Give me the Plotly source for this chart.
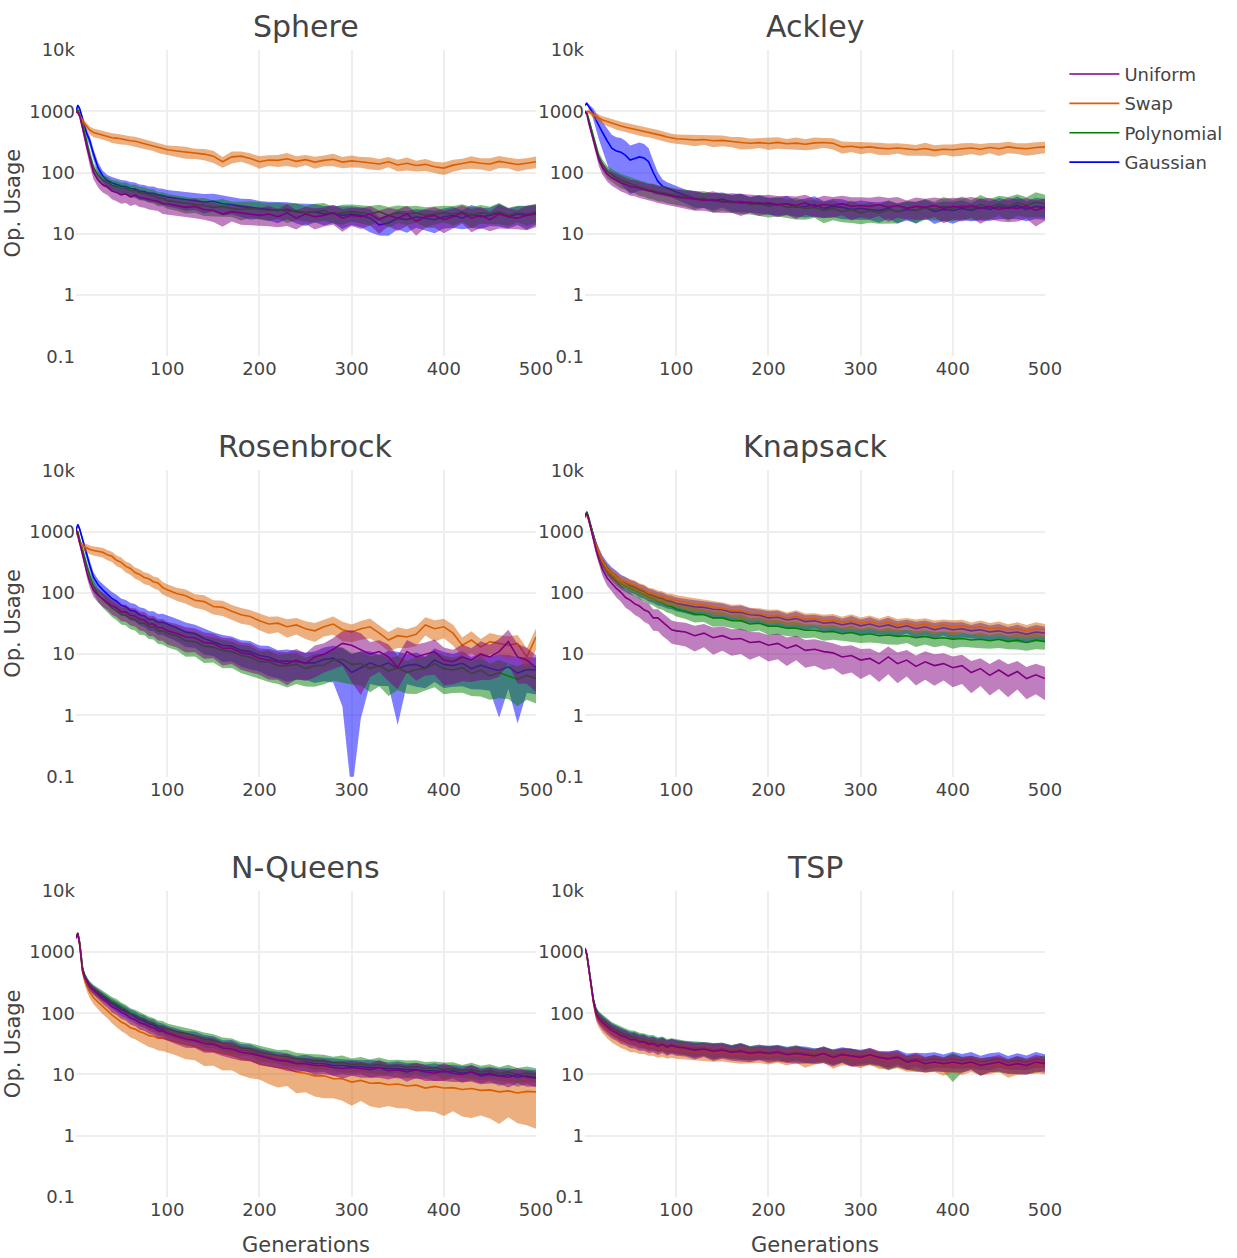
import plotly.graph_objects as go
from plotly.subplots import make_subplots

GENS = [1, 3, 5, 8, 10, 13, 16, 20, 25, 30, 35, 40, 45, 50, 55, 60, 65, 70, 75, 80, 85, 90, 95, 100] + list(range(110, 501, 10))

PANELS = ["Sphere", "Ackley", "Rosenbrock", "Knapsack", "N-Queens", "TSP"]
OPERATORS = ["Uniform", "Swap", "Polynomial", "Gaussian"]
X_TICKS = [100, 200, 300, 400, 500]

# ---------------- Sphere ----------------
sphere_uniform = [1000, 950, 830, 560, 400, 250, 160, 100, 75, 63, 58, 50, 47, 43, 45, 40, 43, 39, 38, 36, 35, 34, 31, 31,
    29, 27, 28, 25, 24, 21, 23, 22, 21, 20,
    21, 19, 22, 18, 21, 19, 20, 22, 18, 20,
    19, 21, 17, 20, 18, 21, 16, 19, 20, 17,
    19, 22, 18, 20, 17, 21, 19, 18, 20, 21]
sphere_uniform_sd = [5, 5, 8, 12, 15, 18, 20, 22, 24, 25, 26, 27, 28, 28, 29, 29, 30, 30, 30, 31, 31, 31, 32, 32,
    33, 30, 36, 32, 35, 38, 31, 36, 34, 32,
    37, 33, 39, 35, 31, 38, 34, 36, 40, 33,
    37, 35, 41, 33, 38, 36, 42, 34, 37, 40,
    36, 33, 41, 38, 35, 42, 37, 34, 43, 39]
sphere_swap = [1000, 950, 850, 700, 640, 560, 490, 450, 430, 410, 395, 370, 365, 350, 345, 330, 325, 310, 300, 285, 275, 255, 250, 235,
    225, 215, 205, 200, 185, 150, 180, 185, 170, 150,
    160, 158, 168, 152, 162, 148, 158, 165, 148, 155,
    150, 145, 138, 150, 133, 142, 130, 136, 124, 118,
    132, 140, 150, 142, 138, 152, 145, 135, 142, 150]
sphere_swap_sd = [5, 5, 8, 10, 12, 14, 15, 16, 16, 17, 17, 18, 18, 18, 18, 18, 18, 18, 18, 18, 18, 18, 18, 18,
    20, 22, 19, 21, 23, 20, 22, 19, 21, 23,
    20, 22, 24, 21, 19, 22, 20, 23, 21, 22,
    20, 23, 21, 19, 22, 24, 20, 22, 21, 23,
    22, 20, 23, 21, 24, 22, 20, 23, 21, 22]
sphere_polynomial = [1000, 1050, 900, 650, 470, 300, 190, 120, 90, 75, 70, 62, 60, 56, 56, 51, 51, 47, 46, 43, 42, 38, 38, 35,
    33, 31, 30, 29, 27, 28, 26, 25, 26, 25,
    24, 25, 23, 24, 22, 23, 24, 21, 22, 23,
    22, 21, 23, 20, 22, 21, 22, 20, 21, 22,
    21, 23, 20, 22, 21, 23, 20, 22, 21, 23]
sphere_polynomial_sd = [5, 5, 7, 10, 12, 15, 17, 18, 19, 20, 21, 22, 22, 23, 23, 24, 24, 25, 25, 25, 26, 26, 26, 27,
    28, 31, 27, 33, 29, 32, 28, 34, 30, 31,
    33, 29, 35, 31, 28, 34, 32, 30, 36, 31,
    33, 35, 30, 37, 32, 34, 31, 36, 33, 30,
    35, 32, 37, 34, 31, 38, 33, 30, 36, 34]
sphere_gaussian = [1000, 1250, 1100, 800, 600, 420, 330, 200, 120, 88, 74, 68, 64, 60, 59, 55, 54, 50, 49, 46, 46, 43, 42, 40,
    38, 36, 35, 33, 34, 31, 30, 28, 27, 26,
    25, 24, 25, 23, 22, 23, 21, 22, 20, 21,
    20, 18, 14, 15, 18, 17, 19, 18, 17, 19,
    20, 18, 21, 19, 20, 22, 19, 21, 20, 22]
sphere_gaussian_sd = [5, 5, 8, 10, 13, 16, 18, 20, 21, 22, 23, 24, 25, 26, 26, 27, 27, 28, 28, 28, 29, 29, 29, 30,
    31, 34, 30, 35, 32, 36, 31, 33, 37, 32,
    34, 38, 31, 36, 39, 33, 35, 32, 40, 34,
    36, 41, 33, 38, 35, 39, 34, 37, 40, 36,
    38, 34, 41, 37, 33, 40, 36, 34, 42, 37]

# ---------------- Ackley ----------------
ackley_uniform = [1000, 900, 650, 430, 340, 230, 160, 120, 95, 82, 75, 68, 64, 59, 58, 55, 53, 50, 49, 46, 45, 43, 42, 40,
    38, 37, 35, 36, 33, 34, 32, 33, 31, 32,
    30, 31, 29, 32, 28, 30, 29, 31, 28, 29,
    28, 30, 27, 29, 26, 28, 27, 29, 26, 28,
    27, 29, 26, 28, 25, 27, 26, 28, 24, 27]
ackley_uniform_sd = [5, 5, 8, 12, 15, 18, 21, 23, 25, 26, 27, 28, 28, 29, 29, 30, 30, 30, 31, 31, 31, 31, 32, 32,
    33, 36, 32, 38, 34, 35, 39, 33, 37, 35,
    38, 34, 40, 36, 33, 39, 37, 35, 41, 36,
    38, 35, 42, 37, 34, 40, 38, 35, 43, 39,
    41, 37, 44, 38, 36, 43, 39, 37, 45, 40]
ackley_swap = [920, 980, 1000, 920, 870, 820, 780, 720, 680, 640, 600, 575, 550, 530, 510, 490, 470, 460, 440, 420, 400, 380, 365, 355,
    350, 340, 345, 330, 335, 318, 310, 300, 308, 298,
    310, 295, 302, 290, 305, 310, 300, 262, 268, 255,
    262, 250, 245, 252, 240, 235, 247, 230, 240, 235,
    245, 252, 240, 256, 245, 262, 250, 244, 256, 262]
ackley_swap_sd = [5, 6, 8, 10, 12, 13, 14, 15, 16, 16, 17, 17, 18, 18, 18, 18, 18, 18, 18, 18, 18, 18, 18, 18,
    19, 21, 18, 22, 20, 19, 23, 20, 18, 22,
    21, 19, 23, 20, 22, 18, 21, 23, 19, 22,
    20, 23, 21, 19, 22, 20, 24, 21, 19, 22,
    23, 20, 22, 19, 24, 21, 20, 23, 22, 21]
ackley_polynomial = [1000, 950, 750, 500, 390, 260, 180, 135, 105, 92, 83, 75, 71, 66, 63, 58, 56, 52, 51, 48, 47, 45, 44, 42,
    40, 37, 38, 34, 35, 32, 33, 30, 31, 28,
    30, 27, 28, 26, 27, 24, 26, 23, 25, 22,
    24, 22, 25, 23, 26, 24, 27, 25, 28, 26,
    29, 26, 30, 27, 31, 28, 32, 29, 33, 31]
ackley_polynomial_sd = [5, 5, 7, 10, 13, 16, 19, 21, 23, 24, 25, 26, 26, 27, 27, 28, 28, 28, 29, 29, 29, 30, 30, 30,
    31, 34, 30, 35, 33, 32, 37, 31, 36, 34,
    36, 33, 39, 35, 32, 38, 36, 33, 40, 35,
    37, 34, 41, 36, 33, 39, 37, 34, 42, 38,
    40, 36, 43, 37, 35, 42, 38, 36, 44, 40]
ackley_gaussian = [1260, 1340, 1200, 1050, 925, 720, 580, 450, 330, 250, 225, 215, 190, 160, 170, 180, 172, 150, 100, 72, 60, 55, 52, 48,
    42, 38, 36, 35, 37, 33, 34, 31, 32, 30,
    29, 31, 27, 28, 30, 26, 28, 27, 25, 26,
    25, 24, 26, 23, 25, 24, 27, 23, 25, 24,
    26, 24, 27, 25, 28, 26, 29, 25, 28, 27]
ackley_gaussian_sd = [5, 5, 8, 12, 20, 30, 40, 50, 58, 65, 68, 70, 72, 72, 72, 72, 70, 66, 55, 40, 30, 26, 25, 25,
    26, 30, 27, 32, 28, 31, 34, 29, 33, 31,
    32, 35, 30, 34, 37, 31, 33, 36, 32, 35,
    33, 37, 32, 36, 34, 38, 33, 37, 35, 39,
    36, 33, 39, 35, 38, 34, 40, 36, 38, 37]

# ---------------- Rosenbrock ----------------
rosenbrock_uniform = [1050, 900, 650, 420, 330, 210, 150, 110, 92, 80, 72, 61, 57, 49, 49, 43, 42, 37, 36, 31, 31, 27, 27, 24,
    22, 19, 18.5, 15.5, 15, 12.5, 12.5, 10.5, 10, 8.5,
    8, 7.5, 6.9, 8, 7, 9, 10, 12, 15, 14,
    12, 10, 11, 9, 6.1, 11, 9, 10, 11, 8,
    7.5, 9, 8, 10, 9, 11, 16, 9, 8, 6]
rosenbrock_uniform_sd = [5, 6, 8, 12, 15, 18, 20, 22, 24, 26, 27, 28, 29, 30, 31, 32, 33, 34, 35, 36, 37, 38, 39, 40,
    41, 44, 42, 46, 43, 48, 45, 47, 50, 46,
    52, 49, 55, 51, 48, 54, 50, 53, 57, 75,
    82, 58, 53, 60, 56, 54, 59, 55, 58, 61,
    57, 60, 56, 62, 58, 61, 57, 63, 59, 60]
rosenbrock_swap = [1000, 850, 650, 580, 560, 540, 510, 490, 475, 460, 420, 395, 340, 315, 270, 250, 215, 200, 178, 170, 152, 145, 122, 112,
    98, 90, 76, 72, 60, 58, 50, 44, 41, 35,
    31, 32, 28, 30, 26, 24, 28, 31, 25, 23,
    26, 28, 22, 17, 20, 19, 21, 30, 26, 28,
    22, 14, 17, 13, 16, 15, 14, 15, 9, 19]
rosenbrock_swap_sd = [5, 6, 8, 12, 14, 15, 16, 17, 18, 18, 19, 19, 20, 20, 20, 21, 21, 21, 22, 22, 22, 23, 23, 23,
    24, 26, 25, 27, 26, 28, 27, 29, 28, 30,
    31, 29, 33, 30, 32, 34, 31, 33, 35, 32,
    34, 36, 33, 35, 37, 34, 36, 33, 38, 35,
    37, 34, 39, 36, 38, 35, 40, 37, 39, 38]
rosenbrock_polynomial = [1050, 1000, 750, 500, 400, 270, 190, 130, 95, 78, 67, 57, 51, 44, 43, 38, 37, 32, 32, 28, 28, 24, 24, 22,
    20, 16.5, 16, 13.5, 13, 11.5, 11, 9.5, 9, 7.5,
    7.5, 6.5, 6.5, 6.8, 5.8, 6.5, 6.6, 8, 8.2, 6.8,
    7, 5.8, 6.5, 5.3, 6, 5, 5.6, 5.8, 7, 5.8,
    5.5, 6, 4.8, 5.5, 4.4, 5, 4.4, 3.9, 4.5, 4]
rosenbrock_polynomial_sd = [5, 5, 7, 10, 14, 17, 20, 23, 25, 27, 28, 29, 30, 31, 32, 33, 34, 35, 36, 37, 38, 39, 40, 41,
    42, 45, 43, 47, 44, 49, 46, 48, 51, 47,
    53, 50, 56, 52, 49, 55, 51, 54, 58, 53,
    56, 59, 54, 61, 57, 55, 60, 56, 59, 62,
    58, 61, 57, 63, 59, 62, 58, 64, 60, 61]
rosenbrock_gaussian = [1050, 1300, 1100, 750, 560, 400, 280, 180, 135, 112, 96, 81, 73, 63, 59, 52, 50, 44, 42, 37, 37, 33, 33, 31,
    27, 23, 21.5, 18, 16, 14, 13.5, 11.5, 11, 9.5,
    9, 7.8, 7.7, 7.6, 7.2, 7.2, 8.2, 8.6, 7, 5,
    6, 7.2, 6.3, 7.2, 5.8, 6.6, 6.8, 5.9, 8, 6.8,
    6.5, 7.1, 5.8, 6.6, 5.9, 5.4, 6.2, 4.9, 5.6, 5.5]
rosenbrock_gaussian_sd = [5, 5, 8, 10, 13, 16, 19, 21, 23, 25, 26, 27, 28, 29, 30, 31, 32, 33, 34, 35, 36, 37, 38, 39,
    40, 43, 41, 45, 42, 47, 44, 46, 49, 45,
    51, 48, 54, 50, 47, 53, 56, 60, 80, 99,
    85, 55, 52, 58, 88, 51, 57, 53, 56, 59,
    55, 58, 54, 60, 57, 83, 56, 85, 58, 60]

# ---------------- Knapsack ----------------
knapsack_uniform = [1800, 2000, 1600, 1000, 750, 500, 350, 240, 175, 145, 118, 102, 84, 76, 66, 61, 53, 49, 39, 39, 33, 29, 25, 24,
    23, 20, 22, 18.5, 20, 17.5, 18, 15.5, 16, 14,
    15, 12.5, 14, 11.5, 12, 11, 10.5, 9, 9.5, 8,
    8.5, 7, 9, 7, 8, 6.3, 7.5, 6.5, 7, 6,
    6.5, 5, 5.8, 4.5, 5.5, 4.4, 5.2, 4, 4.6, 4]
knapsack_uniform_sd = [5, 5, 7, 10, 13, 16, 19, 22, 25, 27, 29, 30, 32, 33, 34, 35, 36, 37, 38, 39, 40, 40, 41, 41,
    42, 45, 41, 47, 43, 46, 44, 48, 42, 46,
    45, 49, 43, 48, 46, 50, 44, 49, 47, 51,
    45, 50, 48, 52, 46, 51, 49, 53, 47, 52,
    50, 54, 48, 53, 51, 55, 49, 54, 52, 56]
knapsack_swap = [1700, 1900, 1500, 1000, 800, 600, 450, 330, 250, 210, 182, 160, 152, 140, 132, 120, 112, 100, 97, 90, 87, 80, 79, 75,
    70, 65, 63, 59, 56, 52, 51, 46, 46, 42,
    43, 39, 41, 37, 38, 35, 36, 33, 35, 32,
    34, 31, 33, 30, 32, 29, 31, 28, 30, 28,
    29, 27, 28, 26, 27, 25, 26, 24, 26, 25]
knapsack_swap_sd = [5, 5, 7, 10, 12, 14, 15, 16, 17, 18, 18, 19, 19, 20, 20, 20, 21, 21, 21, 21, 22, 22, 22, 22,
    23, 25, 22, 26, 24, 23, 27, 24, 22, 26,
    25, 23, 27, 24, 22, 26, 25, 23, 28, 24,
    26, 23, 28, 25, 22, 27, 24, 26, 23, 28,
    25, 22, 27, 24, 26, 23, 28, 25, 27, 24]
knapsack_polynomial = [1800, 2100, 1700, 1100, 850, 600, 430, 300, 230, 190, 162, 140, 130, 118, 110, 100, 94, 85, 80, 72, 69, 62, 60, 54,
    50, 45, 44, 39, 39, 35, 35, 31, 32, 28.5,
    28.5, 26.5, 26.5, 24.5, 24.5, 23, 23.5, 21.5, 22.5, 20.5,
    21.5, 20, 20.5, 19.5, 20, 18.5, 19.5, 18, 18.5, 17.5,
    18, 17, 17.5, 16.5, 17.5, 16, 17, 15.5, 17, 16]
knapsack_polynomial_sd = [5, 5, 7, 9, 11, 13, 15, 16, 17, 18, 19, 19, 20, 20, 21, 21, 22, 22, 22, 23, 23, 23, 24, 24,
    25, 27, 24, 28, 26, 25, 29, 26, 24, 28,
    27, 25, 29, 26, 24, 28, 27, 25, 30, 26,
    28, 25, 30, 27, 24, 29, 26, 28, 25, 30,
    27, 24, 29, 26, 28, 25, 30, 27, 29, 26]
knapsack_gaussian = [1800, 2050, 1600, 1100, 850, 620, 460, 340, 260, 215, 188, 160, 148, 132, 125, 112, 106, 95, 90, 83, 80, 74, 72, 67,
    63, 59, 58, 54, 53, 48, 48, 44, 43, 39,
    40, 36, 38, 34, 35, 32, 33, 30, 32, 29,
    31, 28, 30, 27, 29, 26, 28, 25, 27, 25,
    26, 24, 25, 23, 24, 22, 23, 21, 23, 22]
knapsack_gaussian_sd = [5, 5, 7, 10, 13, 16, 18, 20, 21, 22, 22, 23, 23, 23, 24, 24, 24, 24, 24, 25, 25, 25, 25, 25,
    26, 28, 25, 29, 27, 26, 30, 27, 25, 29,
    28, 26, 30, 27, 25, 29, 28, 26, 31, 27,
    29, 26, 31, 28, 25, 30, 27, 29, 26, 31,
    28, 25, 30, 27, 29, 26, 31, 28, 30, 27]

# ---------------- N-Queens ----------------
nqueens_uniform = [1700, 2000, 1300, 500, 400, 320, 270, 240, 200, 172, 152, 128, 117, 103, 96, 84, 79, 70, 67, 61, 58, 52, 51, 47,
    42, 38, 36, 32, 31, 27, 26, 23, 22, 20,
    18.5, 17, 16.5, 15, 15, 14, 14, 13, 12.5, 13,
    12.5, 12, 13, 11.5, 12, 11, 12, 11, 10.5, 11.5,
    10.5, 10, 11, 9.5, 10, 9.5, 9, 10, 9, 8.7]
nqueens_uniform_sd = [5, 5, 7, 10, 12, 14, 15, 16, 17, 18, 19, 20, 20, 21, 21, 22, 22, 23, 23, 24, 24, 24, 25, 25,
    26, 28, 25, 29, 27, 26, 30, 27, 25, 29,
    28, 26, 31, 27, 25, 30, 28, 26, 32, 27,
    29, 26, 32, 28, 25, 31, 27, 29, 26, 32,
    28, 25, 31, 27, 29, 26, 32, 28, 30, 27]
nqueens_swap = [1700, 1950, 1300, 480, 360, 270, 220, 180, 152, 128, 112, 94, 82, 72, 66, 58, 55, 50, 47, 43, 42, 39, 39, 37,
    34, 31, 29, 25, 24, 22, 21, 18, 17, 15,
    14, 13, 12.5, 11, 10.5, 9.5, 9.5, 8.5, 8.5, 7.5,
    8, 7.2, 7.3, 6.8, 7, 6.5, 6.7, 6, 6.4, 6,
    6.1, 5.7, 5.9, 5.5, 5.6, 5.2, 5.4, 5, 5.3, 5.2]
nqueens_swap_sd = [5, 5, 8, 12, 15, 18, 20, 22, 24, 25, 26, 27, 28, 29, 30, 31, 32, 33, 34, 35, 36, 37, 38, 39,
    40, 43, 41, 45, 42, 47, 44, 46, 49, 45,
    50, 53, 48, 55, 51, 54, 57, 52, 56, 59,
    54, 58, 61, 55, 60, 57, 63, 58, 62, 65,
    59, 64, 67, 61, 66, 70, 63, 68, 72, 75]
nqueens_polynomial = [1700, 2050, 1400, 550, 430, 340, 290, 250, 222, 195, 177, 155, 142, 125, 114, 100, 94, 85, 80, 72, 68, 62, 60, 55,
    50, 46, 43, 38, 36, 32, 30, 27, 26, 23,
    21.5, 20, 19.5, 18, 17.5, 16.5, 16.5, 15.5, 15.5, 14.5,
    15, 14, 14.5, 13.5, 14, 13, 13.5, 12.5, 13, 12,
    12.5, 11.5, 12, 11, 11.5, 10.5, 11, 10, 10.5, 10]
nqueens_polynomial_sd = [5, 5, 7, 10, 12, 14, 15, 16, 17, 18, 18, 19, 20, 20, 21, 21, 21, 22, 22, 23, 23, 23, 24, 24,
    25, 27, 24, 28, 26, 25, 29, 26, 24, 28,
    27, 25, 30, 26, 24, 29, 27, 25, 31, 26,
    28, 25, 31, 27, 24, 30, 26, 28, 25, 31,
    27, 24, 30, 26, 28, 25, 31, 27, 29, 26]
nqueens_gaussian = [1700, 2000, 1400, 560, 420, 330, 280, 240, 212, 185, 167, 145, 130, 115, 106, 95, 88, 79, 75, 67, 64, 57, 55, 50,
    45, 41, 39, 35, 33, 29, 28, 25, 24, 21,
    19.5, 18, 17.5, 16, 16, 15, 15, 14, 14, 13.5,
    13.5, 13, 13, 12.5, 12.5, 12, 12, 11.5, 11.5, 11,
    11.5, 10.5, 11, 10, 10.5, 9.5, 10, 9, 9.5, 9]
nqueens_gaussian_sd = [5, 5, 7, 10, 12, 14, 15, 16, 17, 18, 19, 19, 20, 21, 21, 22, 22, 22, 23, 23, 24, 24, 24, 25,
    27, 25, 29, 26, 28, 25, 30, 26, 29, 27,
    26, 30, 27, 25, 31, 28, 26, 32, 27, 29,
    26, 32, 28, 25, 31, 27, 29, 26, 32, 28,
    25, 31, 27, 29, 26, 32, 28, 30, 27, 31]

# ---------------- TSP ----------------
tsp_uniform = [1150, 900, 550, 250, 160, 100, 82, 70, 60, 52, 48, 43, 41, 37, 37, 34, 34, 31, 32, 29, 31, 28, 30, 28,
    27, 25, 26, 24, 25, 23, 24, 22, 23, 22,
    23, 21, 22, 21, 20, 22, 19, 21, 20, 19,
    21, 19, 18, 19, 16, 17, 15, 16, 15, 16,
    15, 16, 14, 15, 16, 14, 15, 14, 16, 15]
tsp_uniform_sd = [4, 5, 8, 12, 16, 20, 22, 24, 25, 26, 26, 27, 27, 27, 28, 28, 28, 28, 28, 28, 28, 28, 28, 28,
    27, 30, 26, 31, 28, 27, 32, 28, 26, 30,
    29, 27, 32, 28, 26, 31, 29, 27, 33, 28,
    30, 27, 33, 29, 26, 32, 28, 30, 27, 33,
    29, 26, 32, 28, 30, 27, 33, 29, 31, 28]
tsp_swap = [1150, 900, 540, 240, 150, 92, 75, 62, 52, 45, 41, 37, 35, 32, 32, 30, 30, 28, 28, 26, 27, 25, 26, 25,
    24, 23, 24, 22, 23, 21, 22, 21, 22, 20,
    21, 20, 21, 19, 20, 21, 18, 20, 19, 18,
    20, 18, 17, 18, 15, 16, 15, 15, 14, 15,
    14, 15, 14, 14, 15, 13, 14, 14, 15, 14]
tsp_swap_sd = [4, 5, 8, 12, 16, 20, 22, 24, 25, 26, 27, 27, 28, 28, 28, 28, 28, 28, 28, 28, 28, 28, 28, 28,
    28, 26, 31, 27, 29, 26, 32, 28, 30, 27,
    26, 30, 27, 32, 28, 26, 31, 29, 27, 30,
    28, 32, 27, 30, 26, 31, 29, 27, 32, 28,
    30, 27, 31, 28, 26, 32, 29, 27, 30, 28]
tsp_polynomial = [1150, 900, 560, 260, 170, 110, 90, 78, 67, 58, 53, 48, 45, 42, 41, 38, 37, 35, 35, 32, 33, 30, 31, 30,
    28, 27, 27, 25, 26, 24, 25, 23, 24, 23,
    23, 22, 23, 21, 21, 22, 20, 21, 20, 19,
    20, 18, 17, 18, 16, 16, 15, 16, 15, 15,
    15, 16, 14, 15, 15, 14, 15, 14, 15, 16]
tsp_polynomial_sd = [4, 5, 8, 12, 15, 18, 20, 22, 23, 24, 24, 25, 25, 25, 26, 26, 26, 26, 26, 26, 26, 26, 26, 26,
    27, 29, 26, 30, 27, 26, 31, 27, 25, 29,
    28, 26, 31, 27, 25, 30, 28, 26, 32, 27,
    29, 26, 32, 28, 25, 31, 27, 29, 26, 50,
    28, 25, 31, 27, 29, 26, 32, 28, 30, 27]
tsp_gaussian = [1150, 900, 560, 255, 165, 105, 86, 75, 64, 56, 51, 46, 43, 40, 39, 36, 36, 33, 33, 31, 32, 29, 30, 29,
    28, 26, 27, 25, 26, 24, 25, 23, 24, 23,
    24, 22, 23, 22, 21, 22, 20, 22, 20, 20,
    21, 19, 18, 20, 17, 18, 17, 18, 17, 18,
    17, 18, 16, 17, 18, 16, 17, 16, 18, 17]
tsp_gaussian_sd = [4, 5, 8, 12, 15, 18, 20, 22, 23, 24, 24, 25, 25, 25, 26, 26, 26, 26, 26, 26, 26, 26, 26, 26,
    26, 28, 25, 29, 27, 25, 30, 26, 28, 25,
    27, 29, 26, 30, 27, 25, 29, 27, 31, 26,
    28, 25, 30, 27, 29, 26, 31, 28, 25, 30,
    27, 29, 26, 31, 28, 25, 30, 27, 29, 26]

# mean and std (std given in percent of the mean)
DATA = {
    "Sphere": {"Uniform": (sphere_uniform, sphere_uniform_sd), "Swap": (sphere_swap, sphere_swap_sd),
               "Polynomial": (sphere_polynomial, sphere_polynomial_sd), "Gaussian": (sphere_gaussian, sphere_gaussian_sd)},
    "Ackley": {"Uniform": (ackley_uniform, ackley_uniform_sd), "Swap": (ackley_swap, ackley_swap_sd),
               "Polynomial": (ackley_polynomial, ackley_polynomial_sd), "Gaussian": (ackley_gaussian, ackley_gaussian_sd)},
    "Rosenbrock": {"Uniform": (rosenbrock_uniform, rosenbrock_uniform_sd), "Swap": (rosenbrock_swap, rosenbrock_swap_sd),
                   "Polynomial": (rosenbrock_polynomial, rosenbrock_polynomial_sd), "Gaussian": (rosenbrock_gaussian, rosenbrock_gaussian_sd)},
    "Knapsack": {"Uniform": (knapsack_uniform, knapsack_uniform_sd), "Swap": (knapsack_swap, knapsack_swap_sd),
                 "Polynomial": (knapsack_polynomial, knapsack_polynomial_sd), "Gaussian": (knapsack_gaussian, knapsack_gaussian_sd)},
    "N-Queens": {"Uniform": (nqueens_uniform, nqueens_uniform_sd), "Swap": (nqueens_swap, nqueens_swap_sd),
                 "Polynomial": (nqueens_polynomial, nqueens_polynomial_sd), "Gaussian": (nqueens_gaussian, nqueens_gaussian_sd)},
    "TSP": {"Uniform": (tsp_uniform, tsp_uniform_sd), "Swap": (tsp_swap, tsp_swap_sd),
            "Polynomial": (tsp_polynomial, tsp_polynomial_sd), "Gaussian": (tsp_gaussian, tsp_gaussian_sd)},
}

COLORS = {"Uniform": "128,0,128", "Swap": "217,95,2", "Polynomial": "0,128,0", "Gaussian": "0,0,255"}
DRAW_ORDER = ["Gaussian", "Polynomial", "Swap", "Uniform"]
FONT = "DejaVu Sans, Verdana, sans-serif"

for p in PANELS:
    for o in OPERATORS:
        m, s = DATA[p][o]
        assert len(m) == len(GENS) and len(s) == len(GENS), (p, o, len(m), len(s))

fig = make_subplots(rows=3, cols=2, subplot_titles=PANELS,
                    horizontal_spacing=0.0506, vertical_spacing=0.0994)

for i, p in enumerate(PANELS):
    row, col = i // 2 + 1, i % 2 + 1
    for o in DRAW_ORDER:
        m, s = DATA[p][o]
        upper = [v * (1 + r / 100.0) for v, r in zip(m, s)]
        lower = [v * (1 - r / 100.0) for v, r in zip(m, s)]
        c = COLORS[o]
        fig.add_trace(go.Scatter(
            x=GENS + GENS[::-1], y=upper + lower[::-1],
            fill="toself", fillcolor=f"rgba({c},0.5)", line=dict(width=0),
            hoverinfo="skip", showlegend=False, mode="lines", legendgroup=o), row=row, col=col)
        fig.add_trace(go.Scatter(
            x=GENS, y=m, mode="lines", name=o, legendgroup=o,
            line=dict(color=f"rgb({c})", width=1.6),
            showlegend=(i == 0), legendrank=OPERATORS.index(o) + 1), row=row, col=col)

fig.update_xaxes(range=[1, 500], tickvals=X_TICKS, showgrid=True, gridcolor="#eeeeee", gridwidth=1.5,
                 zeroline=False, showline=False, ticks="", automargin=False,
                 tickfont=dict(size=18, color="#444"))
fig.update_yaxes(type="log", range=[-1, 4], dtick=1, showgrid=True, gridcolor="#eeeeee", gridwidth=1.5,
                 zeroline=False, showline=False, ticks="", automargin=True,
                 tickfont=dict(size=18, color="#444"))
for r in (1, 2, 3):
    fig.update_yaxes(title_text="Op. Usage", title_font=dict(size=21, color="#444"),
                     title_standoff=2, row=r, col=1)
for c in (1, 2):
    fig.update_xaxes(title_text="Generations", title_font=dict(size=21, color="#444"),
                     title_standoff=18, row=3, col=c)

for ann in fig.layout.annotations:
    ann.font = dict(size=30, color="#444", family=FONT)
    ann.yshift = 4

fig.update_layout(
    width=1237, height=1258,
    margin=dict(l=76, r=192, t=50, b=61, autoexpand=False),
    paper_bgcolor="white", plot_bgcolor="white",
    font=dict(family=FONT, color="#444", size=18),
    legend=dict(x=1.02, y=0.995, font=dict(size=18), bgcolor="rgba(0,0,0,0)",
                tracegroupgap=3, itemwidth=50),
    showlegend=True,
)

fig.write_html("out.html")
